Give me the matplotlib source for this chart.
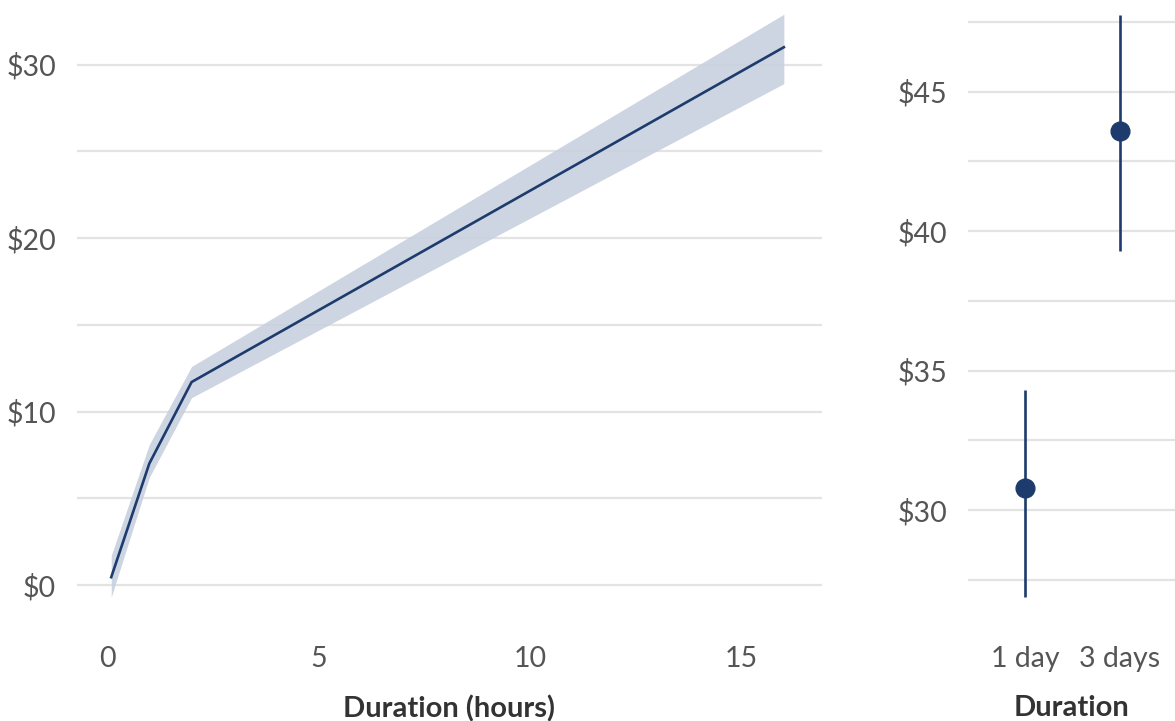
import matplotlib
matplotlib.use("Agg")
import matplotlib.pyplot as plt
from matplotlib.ticker import MultipleLocator, FuncFormatter

plt.rcParams['font.family'] = ['Lato', 'DejaVu Sans']

# Hourly rentals: fitted price with confidence band
hours = [0.1, 1, 2, 16]
price = [0.45, 7.0, 11.7, 31.0]
price_lo = [-0.7, 6.2, 10.8, 28.9]
price_hi = [1.7, 8.1, 12.6, 32.9]

# Multi-day rentals: point estimates with intervals
day_labels = ["1 day", "3 days"]
day_price = [30.8, 43.6]
day_lo = [26.9, 39.3]
day_hi = [34.3, 47.75]

navy = "#1d3b6c"
band = "#c9d1df"
grid = "#e3e3e3"
tick_col = "#555555"
label_col = "#333333"

fig = plt.figure(figsize=(11.75, 7.21), dpi=100)
ax1 = fig.add_axes([0.0655, 0.147, 0.634, 0.839])
ax2 = fig.add_axes([0.8238, 0.147, 0.1762, 0.839])

ax1.fill_between(hours, price_lo, price_hi, color=band, alpha=0.9, linewidth=0)
ax1.plot(hours, price, color=navy, linewidth=1.9)
ax1.set_xlim(-0.71, 16.9)
ax1.set_ylim(-1.73, 33.14)
ax1.xaxis.set_major_locator(MultipleLocator(5))
ax1.yaxis.set_major_locator(MultipleLocator(10))
ax1.yaxis.set_minor_locator(MultipleLocator(5))
ax1.yaxis.set_major_formatter(FuncFormatter(lambda v, p: f"${v:.0f}"))
ax1.set_xlabel("Duration (hours)", fontsize=21, fontweight='bold', color=label_col, labelpad=17)

x = range(len(day_labels))
ax2.vlines(x, day_lo, day_hi, color=navy, linewidth=1.9)
ax2.plot(x, day_price, 'o', color=navy, markersize=13.5)
ax2.set_xlim(-0.6, 1.58)
ax2.set_ylim(26.24, 47.92)
ax2.set_xticks(list(x))
ax2.set_xticklabels(day_labels)
ax2.yaxis.set_major_locator(MultipleLocator(5))
ax2.yaxis.set_minor_locator(MultipleLocator(2.5))
ax2.yaxis.set_major_formatter(FuncFormatter(lambda v, p: f"${v:.0f}"))
ax2.set_xlabel("Duration", fontsize=21, fontweight='bold', color=label_col, labelpad=17)

for ax in (ax1, ax2):
    for s in ax.spines.values():
        s.set_visible(False)
    ax.set_axisbelow(True)
    ax.grid(axis='y', which='both', color=grid, linewidth=1.6)
    ax.grid(axis='x', visible=False)
    ax.tick_params(axis='both', which='both', length=0, labelsize=20.5, colors=tick_col)
    ax.tick_params(axis='x', pad=22)
    ax.tick_params(axis='y', pad=15)

fig.savefig("out.png", dpi=100, facecolor="white")
